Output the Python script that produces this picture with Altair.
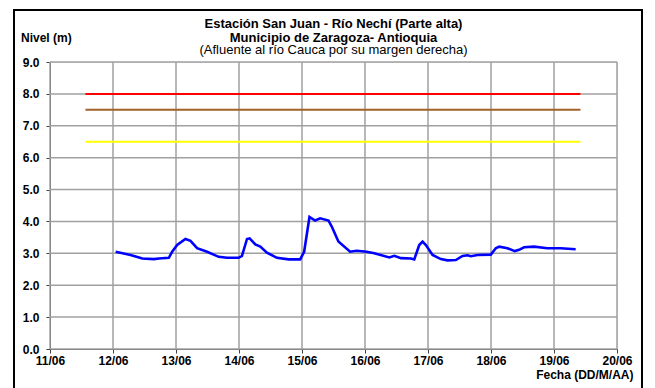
import altair as alt
import pandas as pd

# ---- data ----
times = [
    "2011-06-12T01:00", "2011-06-12T06:40", "2011-06-12T11:10", "2011-06-12T15:35",
    "2011-06-12T17:28", "2011-06-12T21:17", "2011-06-12T22:32", "2011-06-13T00:26",
    "2011-06-13T03:36", "2011-06-13T05:31", "2011-06-13T08:02", "2011-06-13T11:50",
    "2011-06-13T16:16", "2011-06-13T19:26", "2011-06-13T23:53", "2011-06-14T01:08",
    "2011-06-14T03:03", "2011-06-14T04:03", "2011-06-14T06:13", "2011-06-14T08:07",
    "2011-06-14T10:38", "2011-06-14T14:27", "2011-06-14T18:52", "2011-06-14T23:18",
    "2011-06-15T00:49", "2011-06-15T02:51", "2011-06-15T04:59", "2011-06-15T06:55",
    "2011-06-15T10:05", "2011-06-15T11:20", "2011-06-15T13:52", "2011-06-15T18:19",
    "2011-06-15T20:50", "2011-06-16T00:37", "2011-06-16T03:33", "2011-06-16T09:16",
    "2011-06-16T11:10", "2011-06-16T13:42", "2011-06-16T17:30", "2011-06-16T18:46",
    "2011-06-16T20:40", "2011-06-16T21:56", "2011-06-16T23:12", "2011-06-17T01:44",
    "2011-06-17T04:54", "2011-06-17T07:26", "2011-06-17T10:36", "2011-06-17T13:09",
    "2011-06-17T15:03", "2011-06-17T16:19", "2011-06-17T18:52", "2011-06-17T23:56",
    "2011-06-18T01:49", "2011-06-18T03:06", "2011-06-18T06:16", "2011-06-18T09:03",
    "2011-06-18T10:42", "2011-06-18T12:36", "2011-06-18T16:25", "2011-06-18T21:29",
    "2011-06-19T02:33", "2011-06-19T08:15",
]
levels = [
    3.05, 2.95, 2.84, 2.82, 2.84, 2.86, 3.05, 3.26,
    3.45, 3.39, 3.16, 3.05, 2.89, 2.86, 2.86, 2.92,
    3.45, 3.47, 3.28, 3.21, 3.02, 2.86, 2.81, 2.81,
    3.05, 4.14, 4.03, 4.10, 4.03, 3.84, 3.37, 3.05,
    3.08, 3.05, 3.00, 2.87, 2.92, 2.85, 2.84, 2.81,
    3.26, 3.37, 3.26, 2.95, 2.82, 2.78, 2.79, 2.92,
    2.94, 2.91, 2.95, 2.96, 3.16, 3.21, 3.16, 3.07,
    3.11, 3.19, 3.21, 3.16, 3.16, 3.13,
]

threshold_values = [8.0, 7.5, 6.5]
threshold_names = ["Rojo", "Naranja", "Amarillo"]
threshold_colors = ["#FF0000", "#A0602A", "#FFFF00"]
threshold_start = "2011-06-11T13:30"
threshold_end = "2011-06-19T10:05"

day_ticks = list(range(11, 21))
y_ticks = [0, 1, 2, 3, 4, 5, 6, 7, 8, 9]

FONT = "Liberation Sans"
FS = 12
TFS = 13
GRID = "#A0A0A0"

series = pd.DataFrame({"t": times, "nivel": levels})
thr = pd.DataFrame({
    "name": threshold_names,
    "v": threshold_values,
    "color": threshold_colors,
    "t0": [threshold_start] * 3,
    "t1": [threshold_end] * 3,
})
xgrid = pd.DataFrame({"d": [f"2011-06-{d:02d}T00:00" for d in day_ticks]})
ygrid = pd.DataFrame({"v": y_ticks})

x_scale = alt.Scale(domain=[alt.DateTime(year=2011, month=6, date=11),
                            alt.DateTime(year=2011, month=6, date=20)])
y_scale = alt.Scale(domain=[0, 9], nice=False)

x_axis = alt.Axis(
    values=[alt.DateTime(year=2011, month=6, date=d) for d in day_ticks],
    format="%d/%m", labelFont=FONT, labelFontSize=FS, labelFontWeight="bold",
    labelColor="black", labelPadding=2, tickSize=4, tickColor="#404040",
    domainColor="#404040", grid=False,
    labelOverlap=False, labelFlush=False,
    title="Fecha (DD/M/AA)", titleFont=FONT, titleFontSize=FS, titleFontWeight="bold",
    titleColor="black", titleAnchor="end", titleAlign="right", titleBaseline="middle",
    titleX=583, titleY=25,
)
y_axis = alt.Axis(
    values=y_ticks, format=".1f", labelFont=FONT, labelFontSize=FS,
    labelFontWeight="bold", labelColor="black", labelPadding=7, tickSize=4,
    tickColor="#404040", domainColor="#404040", grid=False,
    labelOverlap=False, labelFlush=False, title=None,
)

vgrid = alt.Chart(xgrid).mark_rule(color=GRID, strokeWidth=1.5, opacity=1).encode(
    x=alt.X("d:T", scale=x_scale, axis=x_axis),
    y=alt.value(0), y2=alt.value(287),
)
hgrid = alt.Chart(ygrid).mark_rule(color=GRID, strokeWidth=1.5, opacity=1).encode(
    y=alt.Y("v:Q", scale=y_scale, axis=y_axis),
    x=alt.value(0), x2=alt.value(567),
)

base_line = alt.Chart(series).mark_line(color="#0000FF", strokeWidth=2.6).encode(
    x=alt.X("t:T", scale=x_scale, axis=x_axis),
    y=alt.Y("nivel:Q", scale=y_scale, axis=y_axis),
)

rules = alt.Chart(thr).mark_rule(strokeWidth=2).encode(
    x=alt.X("t0:T", scale=x_scale, axis=x_axis),
    x2="t1:T",
    y=alt.Y("v:Q", scale=y_scale, axis=y_axis),
    color=alt.Color("color:N", scale=None, legend=None),
)

frame = alt.Chart(pd.DataFrame({"k": [1]})).mark_rect(
    fillOpacity=0, stroke="black", strokeWidth=2
).encode(
    x=alt.value(-36), x2=alt.value(592), y=alt.value(-52), y2=alt.value(340)
)

ylabel = alt.Chart(pd.DataFrame({"label": ["Nivel (m)"]})).mark_text(
    font=FONT, fontSize=FS, fontWeight="bold", color="black",
    align="left", baseline="middle"
).encode(x=alt.value(-29), y=alt.value(-24), text="label:N")

chart = alt.layer(vgrid, hgrid, rules, base_line, frame, ylabel).properties(
    width=567,
    height=287,
    autosize=alt.AutoSizeParams(type="none"),
    padding={"left": 42, "top": 54, "right": 30, "bottom": 39},
    title=alt.TitleParams(
        text=["Estación San Juan  - Río Nechí (Parte alta)",
              "Municipio de Zaragoza- Antioquia"],
        subtitle="(Afluente al río Cauca por su margen derecha)",
        font=FONT, fontSize=TFS, fontWeight="bold", color="black", lineHeight=14,
        subtitleFont=FONT, subtitleFontSize=TFS, subtitleFontWeight="normal",
        subtitleColor="black", subtitlePadding=-1, subtitleLineHeight=13,
        anchor="middle", frame="group", offset=-48,
    ),
).configure_view(stroke="#909090", strokeWidth=1).configure(background="white")

chart.save("out.html", embed_options={"renderer": "svg", "actions": False})
